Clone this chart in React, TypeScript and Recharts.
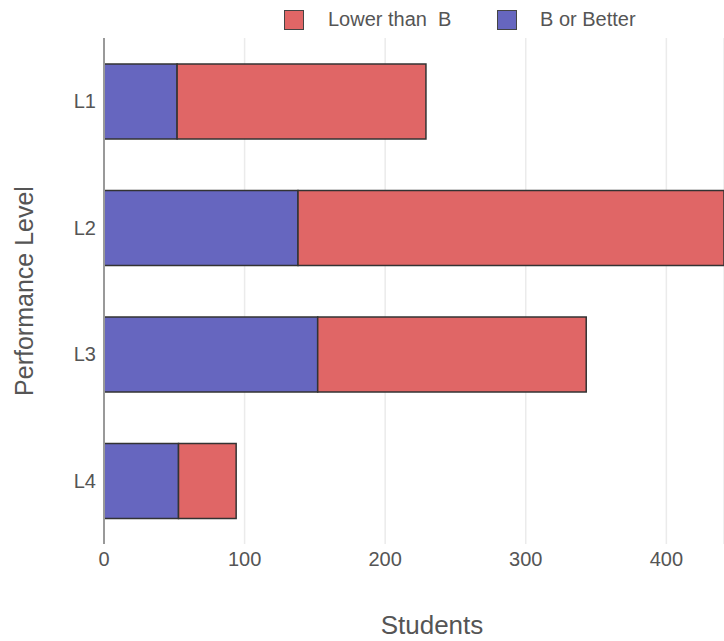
import React from 'react';
import { BarChart, Bar, XAxis, YAxis, CartesianGrid } from 'recharts';

const levels = ['L1', 'L2', 'L3', 'L4'];
const bOrBetter = [52, 138, 152, 53];
const lowerThanB = [177, 330, 191, 41];
const xTicks = [0, 100, 200, 300, 400];

const data = levels.map((level, i) => ({
  level,
  better: bOrBetter[i],
  lower: lowerThanB[i],
}));

const RED = '#E06666';
const BLUE = '#6666BF';
const FONT = '"Liberation Sans", Arial, sans-serif';

export default function App() {
  return (
    <div style={{ position: 'absolute', left: 0, top: 0, width: 724, height: 641, fontFamily: FONT }}>
      <BarChart
        width={724}
        height={641}
        data={data}
        layout="vertical"
        margin={{ top: 38, right: 0, bottom: 0, left: 0 }}
        barCategoryGap="20.5%"
      >
        <CartesianGrid horizontal={false} stroke="#ebebeb" strokeWidth={1.5} />
        <XAxis
          type="number"
          domain={[0, 441]}
          ticks={xTicks}
          allowDataOverflow
          axisLine={false}
          tickLine={false}
          height={97}
          tick={{ fill: '#555', fontSize: 20, fontFamily: FONT }}
          tickMargin={2}
          label={{ value: 'Students', position: 'insideBottom', offset: 7, dx: 18, fill: '#555', fontSize: 26, fontFamily: FONT }}
        />
        <YAxis
          type="category"
          dataKey="level"
          width={104}
          axisLine={{ stroke: '#999', strokeWidth: 2 }}
          tickLine={false}
          tick={{ fill: '#555', fontSize: 20, fontFamily: FONT }}
          label={{
            content: (props: any) => {
              const vb = props.viewBox || { y: 38, height: 506 };
              const cy = vb.y + vb.height / 2;
              return (
                <text
                  x={33}
                  y={cy}
                  transform={`rotate(-90 33 ${cy})`}
                  textAnchor="middle"
                  fill="#555"
                  fontSize={25}
                  fontFamily={FONT}
                >
                  Performance Level
                </text>
              );
            },
          }}
        />
        <Bar dataKey="better" stackId="a" fill={BLUE} stroke="#333" strokeWidth={1.5} isAnimationActive={false} />
        <Bar dataKey="lower" stackId="a" fill={RED} stroke="#333" strokeWidth={1.5} isAnimationActive={false} />
      </BarChart>
      <div style={{ position: 'absolute', top: 0, left: 0, width: 724, height: 40, fontSize: 20, color: '#555' }}>
        <div style={{ position: 'absolute', left: 284, top: 10, width: 18, height: 18, background: RED, border: '1.5px solid #444' }} />
        <div style={{ position: 'absolute', left: 328, top: 9, lineHeight: '20px', whiteSpace: 'pre' }}>Lower than  B</div>
        <div style={{ position: 'absolute', left: 497, top: 10, width: 18, height: 18, background: BLUE, border: '1.5px solid #444' }} />
        <div style={{ position: 'absolute', left: 540, top: 9, lineHeight: '20px' }}>B or Better</div>
      </div>
    </div>
  );
}
